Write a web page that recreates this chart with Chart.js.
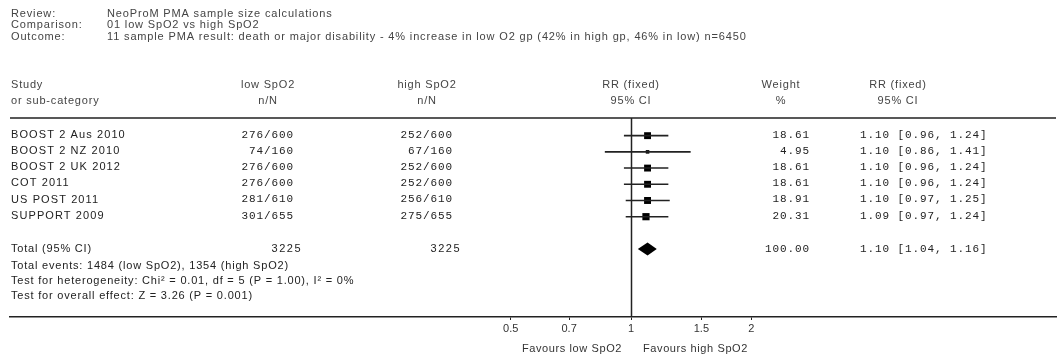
<!DOCTYPE html>
<html>
<head>
<meta charset="utf-8">
<title>NeoProM PMA forest plot</title>
<script src="https://cdn.jsdelivr.net/npm/chart.js@4.4.1/dist/chart.umd.min.js"></script>
<style>
  html, body { margin: 0; padding: 0; background: #fff; }
  #forest { display: block; }
</style>
</head>
<body>
<canvas id="forest" width="1064" height="356"></canvas>
<script>
/* globals Chart:false */
const studies = ["BOOST 2 Aus 2010", "BOOST 2 NZ 2010", "BOOST 2 UK 2012", "COT 2011", "US POST 2011", "SUPPORT 2009"]
const lowEvents = [276, 74, 276, 276, 281, 301]
const lowTotal = [600, 160, 600, 600, 610, 655]
const highEvents = [252, 67, 252, 252, 256, 275]
const highTotal = [600, 160, 600, 600, 610, 655]
const weights = [18.61, 4.95, 18.61, 18.61, 18.91, 20.31]
const rr = [1.10, 1.10, 1.10, 1.10, 1.10, 1.09]
const ciLow = [0.96, 0.86, 0.96, 0.96, 0.97, 0.97]
const ciHigh = [1.24, 1.41, 1.24, 1.24, 1.25, 1.24]

const totalLowN = 3225
const totalHighN = 3225
const totalWeight = 100.00
const totalRR = 1.10
const totalLow = 1.04
const totalHigh = 1.16

const tickValues = [0.5, 0.7, 1, 1.5, 2]

const headerLines = [
    ["Review:", "NeoProM PMA sample size calculations"],
    ["Comparison:", "01 low SpO2 vs high SpO2"],
    ["Outcome:", "11 sample PMA result: death or major disability - 4% increase in low O2 gp (42% in high gp, 46% in low) n=6450"],
]
const footerLines = [
    "Total events: 1484 (low SpO2), 1354 (high SpO2)",
    "Test for heterogeneity: Chi\u00b2 = 0.01, df = 5 (P = 1.00), I\u00b2 = 0%",
    "Test for overall effect: Z = 3.26 (P = 0.001)",
]

const SANS = '11px "Liberation Sans", Arial, sans-serif'
const MONO = '11px "Liberation Mono", "Courier New", monospace'
const totalRow = studies.length + 1

function fmtCI(est, lo, hi) {
    return est.toFixed(2) + ' [' + lo.toFixed(2) + ', ' + hi.toFixed(2) + ']'
}

function txt(ctx, s, px, py, align, font, color, spacing) {
    ctx.font = font
    ctx.fillStyle = color
    ctx.textAlign = align
    ctx.textBaseline = 'middle'
    ctx.letterSpacing = spacing || '0px'
    ctx.fillText(s, px, py)
}

const forestTable = {
    id: 'forestTable',
    beforeDatasetsDraw(chart) {
        const {ctx, chartArea} = chart
        const x = chart.scales.x
        ctx.save()
        ctx.strokeStyle = '#222'
        ctx.lineWidth = 1.5
        ctx.beginPath()
        ctx.moveTo(chartArea.left, chartArea.top)
        ctx.lineTo(chartArea.right, chartArea.top)
        const x1 = Math.round(x.getPixelForValue(1)) + 0.5
        ctx.moveTo(x1, chartArea.top)
        ctx.lineTo(x1, chartArea.bottom)
        ctx.stroke()
        ctx.restore()
    },
    afterDatasetsDraw(chart) {
        const {ctx} = chart
        const x = chart.scales.x
        const y = chart.scales.y
        ctx.save()

        // pooled diamond
        const ty = y.getPixelForValue(totalRow)
        ctx.fillStyle = '#000'
        ctx.beginPath()
        ctx.moveTo(x.getPixelForValue(totalLow), ty)
        ctx.lineTo(x.getPixelForValue(totalRR), ty - 6.5)
        ctx.lineTo(x.getPixelForValue(totalHigh), ty)
        ctx.lineTo(x.getPixelForValue(totalRR), ty + 6.5)
        ctx.closePath()
        ctx.fill()

        // title block
        headerLines.forEach((l, i) => {
            const py = 13.5 + i * 11.5
            txt(ctx, l[0], 11, py, 'left', SANS, '#444', '0.85px')
            txt(ctx, l[1], 107, py, 'left', SANS, '#444', '0.85px')
        })

        // column headers
        const sp = '0.8px'
        txt(ctx, 'Study', 11, 85, 'left', SANS, '#444', sp)
        txt(ctx, 'or sub-category', 11, 101, 'left', SANS, '#444', sp)
        txt(ctx, 'low SpO2', 268, 85, 'center', SANS, '#444', sp)
        txt(ctx, 'n/N', 268, 101, 'center', SANS, '#444', sp)
        txt(ctx, 'high SpO2', 427, 85, 'center', SANS, '#444', sp)
        txt(ctx, 'n/N', 427, 101, 'center', SANS, '#444', sp)
        const xc = x.getPixelForValue(1)
        txt(ctx, 'RR (fixed)', xc, 85, 'center', SANS, '#444', sp)
        txt(ctx, '95% CI', xc, 101, 'center', SANS, '#444', sp)
        txt(ctx, 'Weight', 781, 85, 'center', SANS, '#444', sp)
        txt(ctx, '%', 781, 101, 'center', SANS, '#444', sp)
        txt(ctx, 'RR (fixed)', 898, 85, 'center', SANS, '#444', sp)
        txt(ctx, '95% CI', 898, 101, 'center', SANS, '#444', sp)

        // study rows
        studies.forEach((s, i) => {
            const py = y.getPixelForValue(i) - 1
            txt(ctx, s, 11, py, 'left', SANS, '#222', '1.1px')
            txt(ctx, lowEvents[i] + '/' + lowTotal[i], 294, py, 'right', MONO, '#222', '0.9px')
            txt(ctx, highEvents[i] + '/' + highTotal[i], 453, py, 'right', MONO, '#222', '0.9px')
            txt(ctx, weights[i].toFixed(2), 810, py, 'right', MONO, '#222', '0.9px')
            txt(ctx, fmtCI(rr[i], ciLow[i], ciHigh[i]), 860, py, 'left', MONO, '#222', '0.9px')
        })

        // total row and notes
        txt(ctx, 'Total (95% CI)', 11, ty, 'left', SANS, '#222', sp)
        txt(ctx, String(totalLowN), 302, ty, 'right', SANS, '#222', '1.5px')
        txt(ctx, String(totalHighN), 461, ty, 'right', SANS, '#222', '1.5px')
        txt(ctx, totalWeight.toFixed(2), 810, ty, 'right', MONO, '#222', '0.9px')
        txt(ctx, fmtCI(totalRR, totalLow, totalHigh), 860, ty, 'left', MONO, '#222', '0.9px')
        footerLines.forEach((l, i) => {
            txt(ctx, l, 11, 265.5 + i * 15, 'left', SANS, '#222', sp)
        })

        // favours labels
        txt(ctx, 'Favours low SpO2', xc - 9, 349, 'right', SANS, '#333', '0.6px')
        txt(ctx, 'Favours high SpO2', xc + 12, 349, 'left', SANS, '#333', '0.6px')
        ctx.restore()
    }
}

const ciSets = studies.map((s, i) => ({
    label: s,
    type: 'line',
    data: [{x: ciLow[i], y: i}, {x: ciHigh[i], y: i}],
    borderColor: '#222',
    borderWidth: 1.6,
    pointRadius: 0,
    fill: false,
}))

const pointSet = {
    label: 'RR',
    type: 'scatter',
    data: studies.map((s, i) => ({x: rr[i], y: i})),
    pointStyle: 'rect',
    pointRadius: weights.map(w => 1.13 * Math.sqrt(w)),
    backgroundColor: '#000',
    borderWidth: 0,
}

new Chart(document.getElementById('forest'), {
    type: 'scatter',
    data: {datasets: [...ciSets, pointSet]},
    plugins: [forestTable],
    options: {
        responsive: false,
        devicePixelRatio: 1,
        animation: false,
        layout: {padding: {top: 118, left: 10, right: 8, bottom: 17}},
        plugins: {
            legend: {display: false},
            tooltip: {enabled: false},
        },
        scales: {
            x: {
                type: 'logarithmic',
                min: 0.02794,
                max: 11.57,
                bounds: 'data',
                afterBuildTicks: (s) => { s.ticks = tickValues.map(v => ({value: v})) },
                afterFit: (s) => { s.height = 22 },
                grid: {drawOnChartArea: false, drawTicks: true, tickLength: 3, color: '#222'},
                border: {display: true, color: '#222', width: 1.5},
                ticks: {
                    autoSkip: false,
                    maxRotation: 0,
                    padding: 2,
                    color: '#333',
                    font: {family: 'Liberation Sans', size: 11},
                    callback: (v) => String(v),
                },
            },
            y: {
                type: 'linear',
                display: false,
                reverse: true,
                min: -1.09,
                max: 11.19,
            },
        },
    },
})
</script>
</body>
</html>
